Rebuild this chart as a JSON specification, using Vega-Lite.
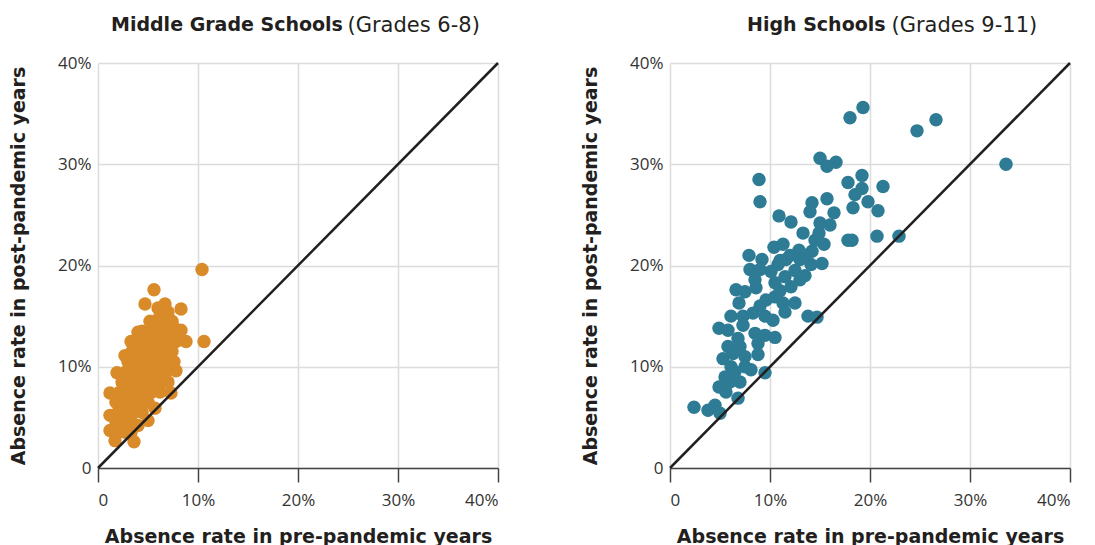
{
  "$schema": "https://vega.github.io/schema/vega-lite/v6.json",
  "background": "white",
  "padding": {"left": 9, "top": 14, "right": 20, "bottom": 5},
  "bounds": "flush",
  "spacing": 172,
  "config": {
    "view": {"stroke": null},
    "font": "DejaVu Sans",
    "axis": {
      "labelFont": "Open Sans",
      "titleFont": "DejaVu Sans",
      "labelFontSize": 17,
      "labelColor": "#333333",
      "titleFontSize": 19,
      "titleFontWeight": "bold",
      "titleColor": "#231f20",
      "gridColor": "#dcdcdc",
      "gridWidth": 1.5
    },
    "title": {"font": "DejaVu Sans", "fontSize": 19, "color": "#231f20"}
  },
  "datasets": {
    "ms": [
      {"pre": 10.4, "post": 19.6}, {"pre": 10.6, "post": 12.5}, {"pre": 5.6, "post": 17.6}, {"pre": 4.7, "post": 16.2},
      {"pre": 8.3, "post": 15.7}, {"pre": 6.7, "post": 16.2}, {"pre": 8.3, "post": 13.6}, {"pre": 8.8, "post": 12.5},
      {"pre": 4.0, "post": 13.4}, {"pre": 3.3, "post": 12.5}, {"pre": 2.7, "post": 11.1}, {"pre": 7.8, "post": 9.6},
      {"pre": 1.9, "post": 9.4}, {"pre": 1.2, "post": 7.4}, {"pre": 7.3, "post": 7.4}, {"pre": 1.2, "post": 5.2},
      {"pre": 1.2, "post": 3.7}, {"pre": 1.7, "post": 2.7}, {"pre": 3.6, "post": 2.6}, {"pre": 5.7, "post": 5.9},
      {"pre": 5.0, "post": 4.7}, {"pre": 4.0, "post": 4.2}, {"pre": 7.0, "post": 15.4}, {"pre": 6.0, "post": 15.8},
      {"pre": 7.5, "post": 14.0}, {"pre": 5.2, "post": 14.5},
      {"pre": 2.0, "post": 3.5}, {"pre": 2.8, "post": 3.5}, {"pre": 3.3, "post": 3.5},
      {"pre": 1.8, "post": 4.5}, {"pre": 2.6, "post": 4.5}, {"pre": 3.4, "post": 4.5},
      {"pre": 2.0, "post": 5.5}, {"pre": 2.8, "post": 5.5}, {"pre": 3.6, "post": 5.5}, {"pre": 4.4, "post": 5.5},
      {"pre": 1.8, "post": 6.5}, {"pre": 2.6, "post": 6.5}, {"pre": 3.4, "post": 6.5}, {"pre": 4.2, "post": 6.5}, {"pre": 5.0, "post": 6.5},
      {"pre": 2.2, "post": 7.5}, {"pre": 3.0, "post": 7.5}, {"pre": 3.8, "post": 7.5}, {"pre": 4.6, "post": 7.5}, {"pre": 5.4, "post": 7.5}, {"pre": 6.2, "post": 7.5},
      {"pre": 2.4, "post": 8.5}, {"pre": 3.2, "post": 8.5}, {"pre": 4.0, "post": 8.5}, {"pre": 4.8, "post": 8.5}, {"pre": 5.6, "post": 8.5}, {"pre": 6.4, "post": 8.5}, {"pre": 7.0, "post": 8.5},
      {"pre": 2.8, "post": 9.5}, {"pre": 3.6, "post": 9.5}, {"pre": 4.4, "post": 9.5}, {"pre": 5.2, "post": 9.5}, {"pre": 6.0, "post": 9.5}, {"pre": 6.8, "post": 9.5},
      {"pre": 3.0, "post": 10.5}, {"pre": 3.8, "post": 10.5}, {"pre": 4.6, "post": 10.5}, {"pre": 5.4, "post": 10.5}, {"pre": 6.2, "post": 10.5}, {"pre": 7.0, "post": 10.5}, {"pre": 7.6, "post": 10.5},
      {"pre": 3.4, "post": 11.5}, {"pre": 4.2, "post": 11.5}, {"pre": 5.0, "post": 11.5}, {"pre": 5.8, "post": 11.5}, {"pre": 6.6, "post": 11.5}, {"pre": 7.4, "post": 11.5},
      {"pre": 3.8, "post": 12.5}, {"pre": 4.6, "post": 12.5}, {"pre": 5.4, "post": 12.5}, {"pre": 6.2, "post": 12.5}, {"pre": 7.0, "post": 12.5}, {"pre": 7.8, "post": 12.5},
      {"pre": 4.4, "post": 13.5}, {"pre": 5.2, "post": 13.5}, {"pre": 6.0, "post": 13.5}, {"pre": 6.8, "post": 13.5}, {"pre": 7.6, "post": 13.5},
      {"pre": 5.8, "post": 14.5}, {"pre": 6.6, "post": 14.5}, {"pre": 7.4, "post": 14.5}, {"pre": 6.2, "post": 15.0}
    ],
    "hs": [
      {"pre": 19.3, "post": 35.6}, {"pre": 18.0, "post": 34.6}, {"pre": 26.6, "post": 34.4}, {"pre": 24.7, "post": 33.3},
      {"pre": 33.6, "post": 30.0}, {"pre": 15.0, "post": 30.6}, {"pre": 15.7, "post": 29.8}, {"pre": 16.6, "post": 30.2},
      {"pre": 8.9, "post": 28.5}, {"pre": 9.0, "post": 26.3}, {"pre": 19.2, "post": 28.9}, {"pre": 17.8, "post": 28.2},
      {"pre": 21.3, "post": 27.8}, {"pre": 19.2, "post": 27.6}, {"pre": 18.5, "post": 27.0}, {"pre": 19.8, "post": 26.3},
      {"pre": 20.8, "post": 25.4}, {"pre": 18.3, "post": 25.7}, {"pre": 15.7, "post": 26.6}, {"pre": 14.2, "post": 26.2},
      {"pre": 14.0, "post": 25.3}, {"pre": 16.4, "post": 25.2}, {"pre": 15.0, "post": 24.2}, {"pre": 10.9, "post": 24.9},
      {"pre": 12.1, "post": 24.3}, {"pre": 13.3, "post": 23.2}, {"pre": 14.9, "post": 23.2}, {"pre": 17.8, "post": 22.5},
      {"pre": 18.2, "post": 22.5}, {"pre": 20.7, "post": 22.9}, {"pre": 22.9, "post": 22.9}, {"pre": 15.4, "post": 22.1},
      {"pre": 10.4, "post": 21.8}, {"pre": 11.3, "post": 22.1}, {"pre": 12.9, "post": 21.5}, {"pre": 14.2, "post": 21.4},
      {"pre": 11.6, "post": 20.6}, {"pre": 13.0, "post": 20.6}, {"pre": 14.1, "post": 20.1}, {"pre": 15.2, "post": 20.2},
      {"pre": 7.9, "post": 21.0}, {"pre": 9.2, "post": 20.6}, {"pre": 8.0, "post": 19.6}, {"pre": 8.5, "post": 18.6},
      {"pre": 9.0, "post": 19.6}, {"pre": 10.1, "post": 19.4}, {"pre": 10.8, "post": 20.1}, {"pre": 11.5, "post": 18.9},
      {"pre": 13.0, "post": 18.6}, {"pre": 12.1, "post": 17.9}, {"pre": 10.5, "post": 18.3}, {"pre": 6.6, "post": 17.6},
      {"pre": 7.5, "post": 17.4}, {"pre": 8.6, "post": 17.8}, {"pre": 9.6, "post": 16.6}, {"pre": 10.5, "post": 16.9},
      {"pre": 11.3, "post": 16.3}, {"pre": 12.5, "post": 16.3}, {"pre": 6.9, "post": 16.3}, {"pre": 11.5, "post": 15.4},
      {"pre": 13.8, "post": 15.0}, {"pre": 14.7, "post": 14.9}, {"pre": 6.1, "post": 15.0}, {"pre": 7.3, "post": 15.0},
      {"pre": 8.3, "post": 15.3}, {"pre": 9.5, "post": 15.0}, {"pre": 10.3, "post": 14.6}, {"pre": 7.3, "post": 14.1},
      {"pre": 4.9, "post": 13.8}, {"pre": 5.8, "post": 13.6}, {"pre": 8.5, "post": 13.3}, {"pre": 9.5, "post": 13.1},
      {"pre": 10.5, "post": 12.9}, {"pre": 6.8, "post": 12.8}, {"pre": 5.8, "post": 12.0}, {"pre": 8.8, "post": 12.3},
      {"pre": 5.3, "post": 10.8}, {"pre": 6.3, "post": 11.3}, {"pre": 7.5, "post": 11.0}, {"pre": 8.8, "post": 11.2},
      {"pre": 6.1, "post": 10.0}, {"pre": 8.1, "post": 9.7}, {"pre": 9.5, "post": 9.4}, {"pre": 7.0, "post": 8.5},
      {"pre": 4.9, "post": 8.0}, {"pre": 5.6, "post": 7.5}, {"pre": 6.8, "post": 6.9}, {"pre": 2.4, "post": 6.0},
      {"pre": 3.8, "post": 5.7}, {"pre": 4.5, "post": 6.2}, {"pre": 5.0, "post": 5.4},
      {"pre": 12.0, "post": 21.0}, {"pre": 11.0, "post": 20.5}, {"pre": 12.5, "post": 19.5}, {"pre": 13.5, "post": 21.0},
      {"pre": 14.5, "post": 22.5}, {"pre": 16.0, "post": 24.0}, {"pre": 7.0, "post": 12.0}, {"pre": 6.5, "post": 9.5},
      {"pre": 7.5, "post": 10.0}, {"pre": 6.0, "post": 8.5}, {"pre": 5.5, "post": 9.0}, {"pre": 9.0, "post": 16.0},
      {"pre": 11.0, "post": 17.5}, {"pre": 13.5, "post": 19.0}
    ],
    "diag": [{"pre": 0, "post": 0}, {"pre": 40, "post": 40}]
  },
  "hconcat": [
    {
      "width": 400,
      "height": 405,
      "title": {"text": "Middle Grade Schools", "anchor": "start", "frame": "group", "dx": 13, "fontWeight": "bold", "offset": -21},
      "layer": [
        {
          "data": {"name": "ms"},
          "mark": {"type": "circle", "size": 180, "opacity": 1, "color": "#D98B2A"},
          "encoding": {
            "x": {"field": "pre", "type": "quantitative", "scale": {"domain": [0, 40], "nice": false},
              "axis": {"values": [0, 10, 20, 30, 40], "labelExpr": "datum.value == 0 ? '0' : datum.value + '%'", "title": "Absence rate in pre-pandemic years",
                "domain": true, "domainColor": "#444444", "domainWidth": 1.5, "ticks": true, "tickColor": "#444444", "tickWidth": 1.5, "tickSize": 14, "labelPadding": 10, "titlePadding": 19}},
            "y": {"field": "post", "type": "quantitative", "scale": {"domain": [0, 40], "nice": false},
              "axis": {"values": [0, 10, 20, 30, 40], "labelExpr": "datum.value == 0 ? '0' : datum.value + '%'", "title": "Absence rate in post-pandemic years",
                "domain": false, "ticks": false, "labelPadding": 7, "titlePadding": 29}}
          }
        },
        {
          "data": {"name": "diag"},
          "mark": {"type": "line", "color": "#231f20", "strokeWidth": 2.5},
          "encoding": {
            "x": {"field": "pre", "type": "quantitative", "axis": {"orient": "top", "labels": false, "ticks": false, "domain": false, "grid": false,
              "title": "(Grades 6-8)", "titleFontWeight": "normal", "titleFontSize": 21, "titleAlign": "left", "titleAnchor": "start", "titleX": 249, "titleY": -32, "titleBaseline": "alphabetic"}},
            "y": {"field": "post", "type": "quantitative"}
          }
        }
      ],
      "resolve": {"axis": {"x": "independent"}}
    },
    {
      "width": 400,
      "height": 405,
      "title": {"text": "High Schools", "anchor": "start", "frame": "group", "dx": 77, "fontWeight": "bold", "offset": -21},
      "layer": [
        {
          "data": {"name": "hs"},
          "mark": {"type": "circle", "size": 180, "opacity": 1, "color": "#2D7B94"},
          "encoding": {
            "x": {"field": "pre", "type": "quantitative", "scale": {"domain": [0, 40], "nice": false},
              "axis": {"values": [0, 10, 20, 30, 40], "labelExpr": "datum.value == 0 ? '0' : datum.value + '%'", "title": "Absence rate in pre-pandemic years",
                "domain": true, "domainColor": "#444444", "domainWidth": 1.5, "ticks": true, "tickColor": "#444444", "tickWidth": 1.5, "tickSize": 14, "labelPadding": 10, "titlePadding": 19}},
            "y": {"field": "post", "type": "quantitative", "scale": {"domain": [0, 40], "nice": false},
              "axis": {"values": [0, 10, 20, 30, 40], "labelExpr": "datum.value == 0 ? '0' : datum.value + '%'", "title": "Absence rate in post-pandemic years",
                "domain": false, "ticks": false, "labelPadding": 7, "titlePadding": 29}}
          }
        },
        {
          "data": {"name": "diag"},
          "mark": {"type": "line", "color": "#231f20", "strokeWidth": 2.5},
          "encoding": {
            "x": {"field": "pre", "type": "quantitative", "axis": {"orient": "top", "labels": false, "ticks": false, "domain": false, "grid": false,
              "title": "(Grades 9-11)", "titleFontWeight": "normal", "titleFontSize": 21, "titleAlign": "left", "titleAnchor": "start", "titleX": 221, "titleY": -32, "titleBaseline": "alphabetic"}},
            "y": {"field": "post", "type": "quantitative"}
          }
        }
      ],
      "resolve": {"axis": {"x": "independent"}}
    }
  ]
}
